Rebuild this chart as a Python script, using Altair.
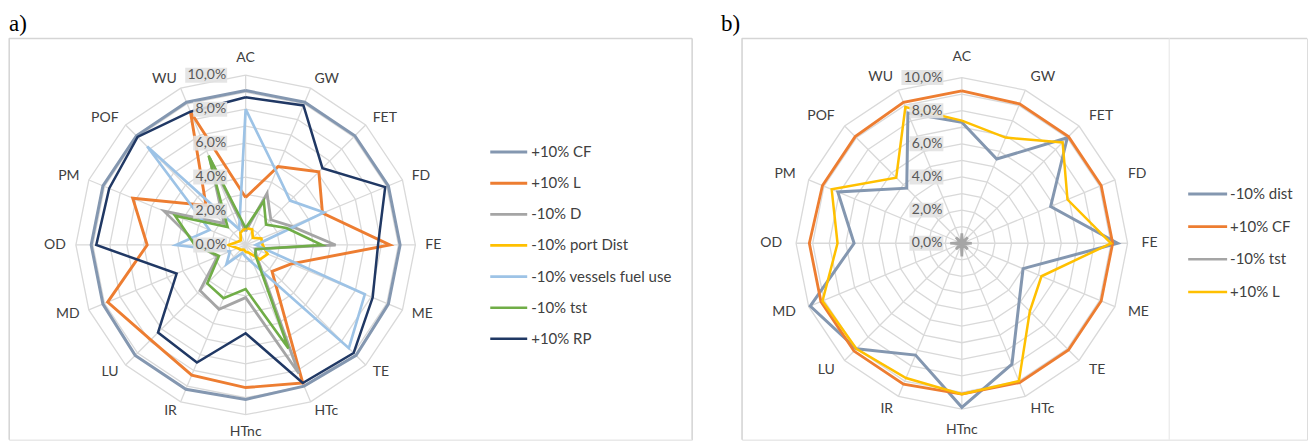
import altair as alt
import pandas as pd

# ---------------- data ----------------
categories = ["AC", "GW", "FET", "FD", "FE", "ME", "TE", "HTc",
              "HTnc", "IR", "LU", "MD", "OD", "PM", "POF", "WU"]
tick_values = [0, 2, 4, 6, 8, 10]
tick_labels = ["0,0%", "2,0%", "4,0%", "6,0%", "8,0%", "10,0%"]

# panel a) values in %
a_series = ["+10% CF", "+10% L", "-10% D", "-10% port Dist",
            "-10% vessels fuel use", "-10% tst", "+10% RP"]
a_cf   = [9.1, 9.1, 9.1, 9.1, 9.1, 9.1, 9.2, 9.0, 9.1, 9.2, 9.2, 9.1, 9.1, 9.1, 9.1, 9.1]
a_l    = [2.8, 5.0, 6.1, 4.9, 8.5, 2.9, 2.2, 8.8, 8.4, 8.3, 7.9, 8.8, 5.8, 7.2, 3.3, 8.5]
a_d    = [0.8, 3.3, 2.1, 2.9, 5.3, 0.6, 0.9, 8.2, 3.1, 4.1, 3.8, 1.8, 2.8, 5.2, 1.8, 5.5]
a_port = [1.0, 1.0, 0.6, 1.0, 1.0, 1.4, 1.2, 0.5, 0.4, 0.3, 0.4, 0.5, 1.0, 0.5, 0.4, 0.8]
a_fuel = [8.0, 4.7, 3.7, 5.0, 0.6, 7.6, 8.6, 1.2, 0.7, 0.5, 1.6, 1.0, 4.1, 2.3, 8.2, 1.0]
a_tst  = [1.0, 2.8, 1.7, 2.6, 4.5, 0.65, 0.8, 6.6, 2.6, 3.4, 3.2, 1.7, 3.0, 4.5, 1.5, 5.7]
a_rp   = [8.7, 8.9, 6.4, 8.9, 7.8, 8.1, 9.0, 8.8, 5.2, 7.5, 7.3, 4.4, 8.8, 8.7, 9.0, 8.5]
a_colors = ["#8497B0", "#ED7D31", "#A5A5A5", "#FFC000", "#9DC3E6", "#70AD47", "#203864"]
a_widths = [3, 2.5, 2.5, 2.5, 2.5, 2.5, 4.5]

# panel b) values in %
b_series = ["-10% dist", "+10% CF", "-10% tst", "+10% L"]
b_dist = [7.3, 5.5, 9.0, 5.8, 9.4, 4.0, 4.9, 7.9, 9.9, 7.3, 9.0, 9.9, 6.5, 8.1, 4.7, 8.5]
b_cf   = [9.2, 9.1, 9.1, 9.1, 9.1, 9.1, 9.1, 9.1, 9.1, 9.2, 9.2, 9.2, 9.2, 9.1, 9.1, 9.2]
b_tst  = [0.6, 0.1, 0.5, 0.1, 0.6, 0.1, 0.5, 0.1, 0.8, 0.1, 0.5, 0.1, 0.7, 0.1, 0.5, 0.1]
b_l    = [7.4, 6.9, 8.6, 6.9, 9.0, 5.2, 5.8, 9.0, 9.1, 8.8, 9.0, 9.1, 7.5, 8.5, 5.6, 8.9]
b_colors = ["#8497B0", "#ED7D31", "#A5A5A5", "#FFC000"]
b_widths = [3, 2.5, 2.5, 2.5]

FONT = "Lato"
GRID = "#d9d9d9"
N = len(categories)
ANG = f"2*PI*datum.idx/{N}"


def panel(series, values, colors, widths, k, cx, cy, W, H, title, title_dx,
          lx0, lx1, ltx, ly0, ly1, right_border, sep_x=None):
    xs = alt.Scale(domain=[-cx / k, (W - cx) / k], nice=False, zero=False)
    ys = alt.Scale(domain=[-(H - cy) / k, cy / k], nice=False, zero=False)

    def X(f):
        return alt.X(f, type="quantitative", scale=xs, axis=None)

    def Y(f):
        return alt.Y(f, type="quantitative", scale=ys, axis=None)

    cscale = alt.Scale(domain=series, range=colors)
    wscale = alt.Scale(domain=series, range=widths)
    one = pd.DataFrame({"a": [0]})
    layers = []

    # panel letter
    layers.append(alt.Chart(one).mark_text(
        text=title, align="left", baseline="alphabetic", font="Liberation Serif",
        fontSize=23, color="#000000").encode(x=alt.value(title_dx), y=alt.value(-7)))

    # frame borders
    border = "#d0d0d0"
    layers.append(alt.Chart(one).mark_rule(color=border, strokeWidth=1).encode(
        x=alt.value(0), y=alt.value(0), y2=alt.value(H)))
    layers.append(alt.Chart(one).mark_rule(color=border, strokeWidth=1).encode(
        x=alt.value(0), x2=alt.value(W), y=alt.value(0)))
    if right_border:
        layers.append(alt.Chart(one).mark_rule(color=border, strokeWidth=1).encode(
            x=alt.value(W), y=alt.value(0), y2=alt.value(H)))
    if sep_x is not None:
        layers.append(alt.Chart(one).mark_rule(color="#e6e6e6", strokeWidth=1).encode(
            x=alt.value(sep_x), y=alt.value(0), y2=alt.value(H)))

    # rings (every 1 %)
    ring_df = pd.DataFrame([{"r": r, "idx": i} for r in range(1, 11) for i in range(N + 1)])
    layers.append(
        alt.Chart(ring_df).transform_calculate(
            x=f"datum.r*sin({ANG})", y=f"datum.r*cos({ANG})"
        ).mark_line(color=GRID, strokeWidth=1.3).encode(
            x=X("x"), y=Y("y"), detail="r:N", order="idx:Q")
    )
    # spokes
    spoke_df = pd.DataFrame({"idx": list(range(N))})
    layers.append(
        alt.Chart(spoke_df).transform_calculate(
            x0="0", y0="0", x1=f"10*sin({ANG})", y1=f"10*cos({ANG})"
        ).mark_rule(color=GRID, strokeWidth=1.3).encode(
            x=X("x0"), y=Y("y0"), x2="x1:Q", y2="y1:Q")
    )
    # category labels
    cat_df = pd.DataFrame({"idx": list(range(N)), "label": categories})
    rl = 180.0 / k
    cat_base = alt.Chart(cat_df).transform_calculate(
        x=f"{rl}*sin({ANG})", y=f"{rl}*cos({ANG})")
    for cond, align, baseline in [
        ("datum.idx > 0 && datum.idx < 8", "left", "middle"),
        ("datum.idx > 8", "right", "middle"),
        ("datum.idx == 0", "center", "bottom"),
        ("datum.idx == 8", "center", "top"),
    ]:
        layers.append(
            cat_base.transform_filter(cond).mark_text(
                align=align, baseline=baseline, font=FONT, fontSize=14, color="#404040"
            ).encode(x=X("x"), y=Y("y"), text="label:N")
        )

    # series
    for name, vals in zip(series, values):
        sdf = pd.DataFrame({"series": name, "idx": list(range(N + 1)),
                            "value": [vals[i % N] for i in range(N + 1)]})
        layers.append(
            alt.Chart(sdf).transform_calculate(
                x=f"datum.value*sin({ANG})", y=f"datum.value*cos({ANG})"
            ).mark_line().encode(
                x=X("x"), y=Y("y"), order="idx:Q",
                color=alt.Color("series:N", scale=cscale, legend=None),
                strokeWidth=alt.StrokeWidth("series:N", scale=wscale, legend=None))
        )

    # value labels on the AC spoke, with their grey boxes
    tick_df = pd.DataFrame({"r": tick_values, "label": tick_labels})
    gap = 18.5
    hb = 7.5
    tbase = alt.Chart(tick_df).transform_calculate(
        xr=f"-{gap}/{k}",
        xl=f"-({gap} + 8*length(datum.label) + 2)/{k}",
        yb=f"datum.r - {hb}/{k}",
        yt=f"datum.r + {hb}/{k}",
        xt=f"-({gap} + 1)/{k}",
    )
    layers.append(tbase.mark_rect(color="#e2e2e2", opacity=0.9).encode(
        x=X("xl"), x2="xr:Q", y=Y("yb"), y2="yt:Q"))
    layers.append(tbase.mark_text(
        align="right", baseline="middle", font=FONT, fontSize=14, color="#595959"
    ).encode(x=X("xt"), y=Y("r"), text="label:N"))

    # legend
    leg_df = pd.DataFrame({"series": series})
    lys = alt.Scale(type="point", domain=series, range=[ly0, ly1], padding=0)
    layers.append(alt.Chart(leg_df).mark_rule().encode(
        x=alt.value(lx0), x2=alt.value(lx1),
        y=alt.Y("series:N", scale=lys, axis=None),
        color=alt.Color("series:N", scale=cscale, legend=None),
        strokeWidth=alt.StrokeWidth("series:N", scale=wscale, legend=None)))
    layers.append(alt.Chart(leg_df).mark_text(
        align="left", baseline="middle", font=FONT, fontSize=15, color="#404040"
    ).encode(x=alt.value(ltx), y=alt.Y("series:N", scale=lys, axis=None), text="series:N"))

    return alt.layer(*layers).resolve_scale(y="independent").properties(width=W, height=H)


pa = panel(a_series, [a_cf, a_l, a_d, a_port, a_fuel, a_tst, a_rp], a_colors, a_widths,
           k=17.0, cx=237.0, cy=207.0, W=684, H=402, title="a)", title_dx=0,
           lx0=482, lx1=519, ltx=523, ly0=114, ly1=301, right_border=True)
pb = panel(b_series, [b_dist, b_cf, b_tst, b_l], b_colors, b_widths,
           k=16.6, cx=220.3, cy=205.3, W=566, H=402, title="b)", title_dx=-21,
           lx0=447, lx1=486, ltx=489, ly0=156, ly1=254, right_border=False, sep_x=428)

chart = alt.hconcat(pa, pb, spacing=50, bounds="flush").resolve_scale(
    color="independent", strokeWidth="independent"
).properties(
    padding={"left": 0, "top": 4, "right": 0, "bottom": 0}
).configure_view(fill="#f4f4f4", stroke="transparent").configure(background="white")

chart.save("out.html", embed_options={"renderer": "svg", "actions": False})
